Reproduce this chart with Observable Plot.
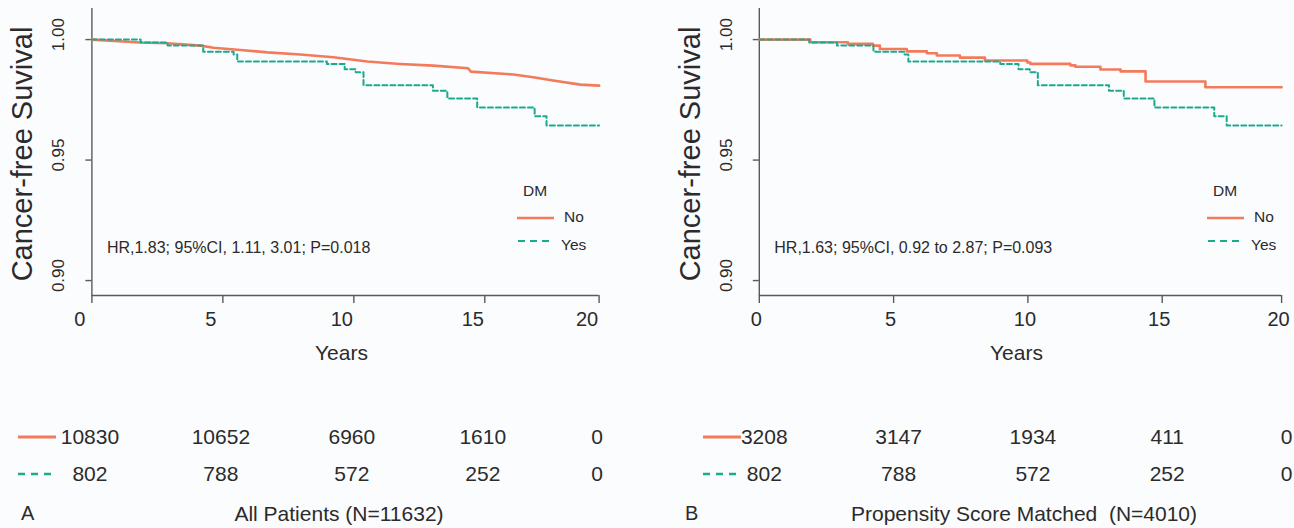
<!DOCTYPE html>
<html><head><meta charset="utf-8">
<script src="https://cdn.jsdelivr.net/npm/d3@7"></script>
<script src="https://cdn.jsdelivr.net/npm/@observablehq/plot@0.6"></script>
<style>
body{margin:0;background:#fbfcfe;}
#root{position:relative;width:1294px;height:528px;overflow:hidden;font-family:"Liberation Sans",Arial,sans-serif;}
#root > svg{position:absolute;left:0;top:0;}
</style></head><body><div id="root"></div><script>
// ---- data ----
const xTicks = [0, 5, 10, 15, 20];
const yTicks = [0.90, 0.95, 1.00];
const groups = ["No", "Yes"];

// Panel A: All patients, DM = No
const noTimeA = [0, 1.85, 2.88, 4.14, 4.64, 5.67, 6.70, 7.96, 9.22, 10.51, 11.77, 13.03, 14.36, 14.47, 16.25, 17.12, 17.99, 19.18, 20];
const noSurvA = [1.0, 0.9988, 0.9985, 0.9975, 0.9966, 0.9957, 0.9947, 0.9938, 0.9927, 0.9909, 0.9899, 0.9892, 0.9881, 0.9867, 0.9855, 0.9844, 0.9830, 0.9813, 0.9809];
// Panel B: propensity matched, DM = No
const noTimeB = [0, 1.9, 3.3, 4.23, 4.49, 5.49, 6.24, 6.61, 7.47, 8.4, 9.98, 10.09, 11.58, 11.77, 12.7, 13.45, 14.38, 16.81, 20];
const noSurvB = [1.0, 0.9989, 0.9982, 0.9975, 0.9961, 0.9951, 0.9943, 0.9934, 0.9925, 0.9913, 0.9905, 0.9899, 0.9893, 0.9887, 0.9876, 0.9868, 0.9826, 0.9802, 0.9802];
// DM = Yes (same 802 patients in both panels)
const yesTime = [0, 1.86, 2.89, 4.25, 5.41, 5.55, 8.97, 9.65, 10.07, 10.37, 13.02, 13.57, 14.71, 17.18, 17.7, 20];
const yesSurv = [1.0, 0.9988, 0.9975, 0.9950, 0.9938, 0.9909, 0.9899, 0.9877, 0.9864, 0.9811, 0.9788, 0.9756, 0.9718, 0.9682, 0.9643, 0.9643];

// numbers at risk
const riskTimes = [0, 5, 10, 15, 20];
const riskNoA = [10830, 10652, 6960, 1610, 0];
const riskYesA = [802, 788, 572, 252, 0];
const riskNoB = [3208, 3147, 1934, 411, 0];
const riskYesB = [802, 788, 572, 252, 0];

const hrA = "HR,1.83; 95%CI, 1.11, 3.01; P=0.018";
const hrB = "HR,1.63; 95%CI, 0.92 to 2.87; P=0.093";
const captionA = "All Patients (N=11632)";
const captionB = "Propensity Score Matched\u00a0 (N=4010)";
const yTitle = "Cancer-free Suvival";
const xTitle = "Years";
const legendTitle = "DM";

// ---- styling ----
const FONT = "'Liberation Sans', Arial, Helvetica, sans-serif";
const ORANGE = "#f47a5c";
const GREEN = "#1da98d";
const AX = "#5a5a5a";
const TXT = "#2b2b2b";
const W = 1294, H = 528;
const yMin = 0.8938, yMax = 1.0129;

const zip = (t, s) => t.map((v, i) => ({t: v, s: s[i]}));

// the reference's last x interval (15 to 20) is drawn slightly shorter than the others
const panels = [
  {x0: 91.4, x15: 484.3, x20: 598.6, noT: noTimeA, noS: noSurvA, noCurve: "linear",
   riskNo: riskNoA, riskYes: riskYesA, hr: hrA, caption: captionA, letter: "A",
   tickDx: -12, riskDx: -2, titleX: 22, legX: 517, keyX: 18, letterX: 21, capX: 339},
  {x0: 758.8, x15: 1161.7, x20: 1281.1, noT: noTimeB, noS: noSurvB, noCurve: "step-after",
   riskNo: riskNoB, riskYes: riskYesB, hr: hrB, caption: captionB, letter: "B",
   tickDx: -3, riskDx: 5, titleX: 690, legX: 1207, keyX: 703, letterX: 685, capX: 1024}
];

const root = document.getElementById("root");

for (const p of panels) {
  const perYear = (p.x15 - p.x0) / 15;
  const k = (p.x20 - p.x15) / (5 * perYear);
  const tf = t => (t <= 15 ? t : 15 + (t - 15) * k);
  const xScale = {type: "linear", transform: tf, domain: [0, tf(20)], range: [p.x0, p.x20]};

  const chart = Plot.plot({
    width: W, height: H,
    marginLeft: p.x0, marginRight: W - p.x20, marginTop: 8, marginBottom: H - 295,
    style: {background: "transparent", fontFamily: FONT, color: TXT, overflow: "visible"},
    x: {...xScale, label: null, axis: null},
    y: {domain: [yMin, yMax], range: [295, 8], label: null},
    marks: [
      Plot.ruleX([0], {y1: yMin, y2: yMax, stroke: AX, strokeWidth: 1.4}),
      Plot.ruleY([yMin], {x1: 0, x2: 20, stroke: AX, strokeWidth: 1.4}),
      Plot.axisY({ticks: yTicks, tickSize: 6, tickFormat: () => "", stroke: AX, strokeWidth: 1.4, label: null}),
      // x tick marks (drawn as short rules below the axis line)
      Plot.ruleX(xTicks, {x: d => d, y1: () => yMin, y2: () => yMin, insetBottom: -8, stroke: AX, strokeWidth: 1.4}),
      Plot.text(yTicks, {x: () => 0, y: d => d, text: d => d.toFixed(2), rotate: -90, dx: -33, dy: -5, fontSize: 17, fill: TXT}),
      Plot.text(xTicks, {x: d => d, y: () => yMin, text: d => String(d), dy: 24, dx: p.tickDx, fontSize: 20, fill: TXT}),
      Plot.text([yTitle], {frameAnchor: "left", text: d => d, textAnchor: "middle", lineAnchor: "middle", rotate: -90, dx: p.titleX - p.x0, dy: 2, fontSize: 29, fill: TXT}),
      Plot.text([xTitle], {frameAnchor: "bottom", text: d => d, lineAnchor: "middle", dy: 58, dx: -4, fontSize: 21, fill: TXT}),
      Plot.text([p.hr], {frameAnchor: "bottom-left", text: d => d, textAnchor: "start", lineAnchor: "middle", dx: 15, dy: -48, fontSize: 16, fill: TXT}),
      Plot.line(zip(p.noT, p.noS), {x: "t", y: "s", curve: p.noCurve, stroke: ORANGE, strokeWidth: 2.6}),
      Plot.line(zip(yesTime, yesSurv), {x: "t", y: "s", curve: "step-after", stroke: GREEN, strokeWidth: 2, strokeDasharray: "5,3"})
    ]
  });
  root.appendChild(chart);

  const riskRows = [
    ...riskTimes.map((t, i) => ({t, g: "No", n: p.riskNo[i]})),
    ...riskTimes.map((t, i) => ({t, g: "Yes", n: p.riskYes[i]}))
  ];
  const table = Plot.plot({
    width: W, height: H, margin: 0,
    style: {background: "transparent", fontFamily: FONT, color: TXT, overflow: "visible"},
    x: {...xScale, axis: null},
    y: {type: "point", domain: groups, range: [437, 474], padding: 0, axis: null},
    marks: [
      Plot.text(riskRows, {x: "t", y: "g", text: d => String(d.n), dx: p.riskDx, fontSize: 21, fill: TXT})
    ]
  });
  root.appendChild(table);

  // legend + risk table keys + caption (decoration)
  const deco = d3.create("svg").attr("width", W).attr("height", H)
    .style("font-family", FONT).style("overflow", "visible");
  const L = p.legX;
  deco.append("text").attr("x", L + 18).attr("y", 190).attr("text-anchor", "middle")
    .attr("dominant-baseline", "central").attr("font-size", 15.5).attr("fill", TXT).text(legendTitle);
  deco.append("line").attr("x1", L).attr("x2", L + 37).attr("y1", 218).attr("y2", 218)
    .attr("stroke", ORANGE).attr("stroke-width", 2.6);
  deco.append("text").attr("x", L + 47).attr("y", 216).attr("dominant-baseline", "central")
    .attr("font-size", 15.5).attr("fill", TXT).text(groups[0]);
  deco.append("line").attr("x1", L + 1).attr("x2", L + 35).attr("y1", 241).attr("y2", 241)
    .attr("stroke", GREEN).attr("stroke-width", 2.2).attr("stroke-dasharray", "7,5");
  deco.append("text").attr("x", L + 44).attr("y", 244).attr("dominant-baseline", "central")
    .attr("font-size", 15.5).attr("fill", TXT).text(groups[1]);

  const K = p.keyX;
  deco.append("line").attr("x1", K).attr("x2", K + 38).attr("y1", 437).attr("y2", 437)
    .attr("stroke", ORANGE).attr("stroke-width", 3);
  deco.append("line").attr("x1", K).attr("x2", K + 36).attr("y1", 474).attr("y2", 474)
    .attr("stroke", GREEN).attr("stroke-width", 2.6).attr("stroke-dasharray", "7,6");
  deco.append("text").attr("x", p.letterX).attr("y", 513).attr("dominant-baseline", "central")
    .attr("font-size", 20).attr("fill", TXT).text(p.letter);
  deco.append("text").attr("x", p.capX).attr("y", 513).attr("text-anchor", "middle").attr("dominant-baseline", "central")
    .attr("font-size", 21).attr("fill", TXT).text(p.caption);
  root.appendChild(deco.node());
}
</script></body></html>
